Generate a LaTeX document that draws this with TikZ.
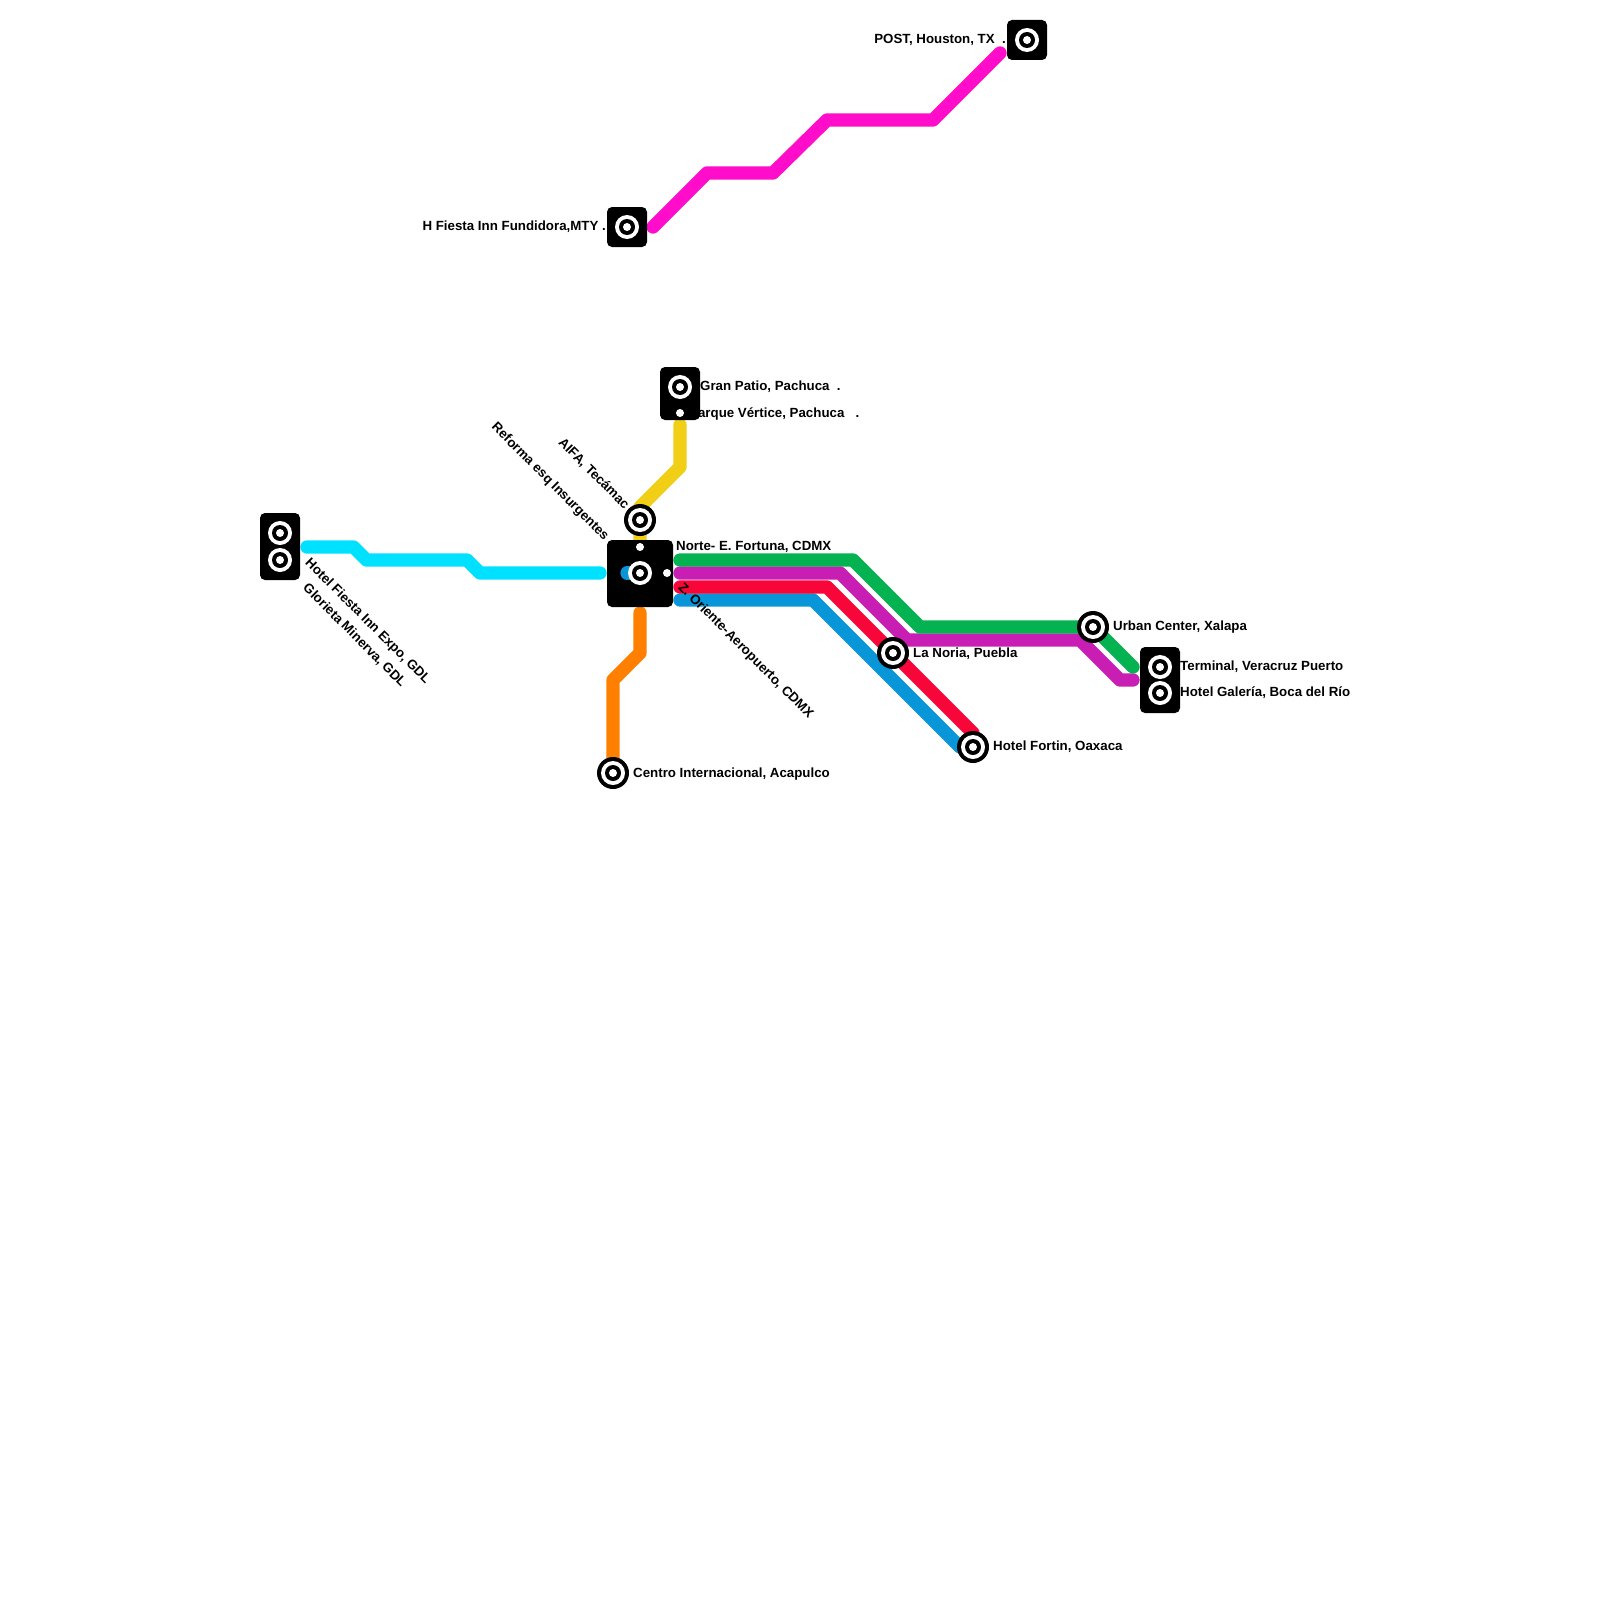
\documentclass[tikz,border=0pt]{standalone}
\usepackage{fontspec}
\setmainfont{Liberation Sans}
\definecolor{cGreen}{HTML}{05B252}
\definecolor{cPurple}{HTML}{C81EB4}
\definecolor{cRed}{HTML}{F80539}
\definecolor{cBlue}{HTML}{0896D8}
\definecolor{cCyan}{HTML}{00E1FF}
\definecolor{cYellow}{HTML}{F0CF16}
\definecolor{cOrange}{HTML}{FF8000}
\definecolor{cMagenta}{HTML}{FF0DCB}
\tikzset{
  mline/.style={line width=13.3pt,line cap=round,line join=round},
  stbox/.style={fill=black,rounded corners=5pt},
  whiteDisk/.style={circle,fill=white,inner sep=0pt,minimum size=#1},
  blackDisk/.style={circle,fill=black,inner sep=0pt,minimum size=#1},
  lbl/.style={font=\fontsize{13.3}{15}\selectfont\bfseries,inner sep=0pt,text=black}
}
\newcommand{\stnCore}[2]{%
  \node[whiteDisk=24pt] (#1) at (#2) {};
  \node[blackDisk=16pt] (#1i) at (#2) {};
  \node[whiteDisk=8pt] (#1c) at (#2) {};}
\newcommand{\stnRing}[2]{%
  \node[blackDisk=32pt] (#1o) at (#2) {};
  \stnCore{#1}{#2}}
\begin{document}
\begin{tikzpicture}[x=1pt,y=-1pt]
\useasboundingbox[fill=white] (0,0) rectangle (1600,1600);
% endpoints
\coordinate (yA) at (680,425); \coordinate (yB) at (680,467); \coordinate (yC) at (640,507); \coordinate (yD) at (640,540);
\coordinate (oA) at (640,613); \coordinate (oB) at (640,653); \coordinate (oC) at (613,680); \coordinate (oD) at (613,773);
\coordinate (mA) at (653,227); \coordinate (mB) at (707,173); \coordinate (mC) at (773,173); \coordinate (mD) at (827,120); \coordinate (mE) at (933,120); \coordinate (mF) at (1000,53);
\coordinate (cA) at (307,547); \coordinate (cB) at (353.5,547); \coordinate (cC) at (366.5,560); \coordinate (cD) at (467,560); \coordinate (cE) at (480,573); \coordinate (cF) at (600,573);
\coordinate (gA) at (680,560); \coordinate (gB) at (853,560); \coordinate (gC) at (920,627); \coordinate (gD) at (1093,627); \coordinate (gE) at (1133,667);
\coordinate (pA) at (680,573); \coordinate (pB) at (840,573); \coordinate (pC) at (907,640); \coordinate (pD) at (1080,640); \coordinate (pE) at (1120,680); \coordinate (pF) at (1133,680);
\coordinate (rA) at (680,587); \coordinate (rB) at (827,587); \coordinate (rC) at (973,733);
\coordinate (bA) at (680,600); \coordinate (bB) at (813,600); \coordinate (bC) at (960,747);
\coordinate (bX) at (627,573); \coordinate (bY) at (640,573);
% labels under boxes
\node[lbl,anchor=west] (tGran) at (700,387) {Gran Patio, Pachuca\ \ .};
\node[lbl,anchor=west] (tParque) at (689,414) {Parque Vértice, Pachuca\ \ \ .};
\node[lbl,anchor=east] (tMty) at (606,227) {H Fiesta Inn Fundidora,MTY .};
\node[lbl,anchor=east] (tPost) at (1006,40) {POST, Houston, TX\ \ .};
\node[lbl,anchor=west] (tNorte) at (676,547) {Norte- E. Fortuna, CDMX};
\node[lbl,anchor=west] (tUrban) at (1113,627) {Urban Center, Xalapa};
\node[lbl,anchor=west] (tNoria) at (913,654) {La Noria, Puebla};
\node[lbl,anchor=west] (tFortin) at (993,747) {Hotel Fortin, Oaxaca};
\node[lbl,anchor=west] (tCentro) at (633,774) {Centro Internacional, Acapulco};
\node[lbl,anchor=west] (tTerm) at (1180,667) {Terminal, Veracruz Puerto};
\node[lbl,anchor=west] (tGal) at (1180,693) {Hotel Galería, Boca del Río};
\node[lbl,anchor=east,rotate=-45] (tRef) at (606.5,538.5) {Reforma esq Insurgentes};
\node[lbl,anchor=east,rotate=-45] (tAifa) at (627,507) {AIFA, Tecámac};
\node[lbl,anchor=west,rotate=-45] (tHotel) at (307,561) {Hotel Fiesta Inn Expo, GDL};
\node[lbl,anchor=west,rotate=-45] (tGlor) at (305,586) {Glorieta Minerva, GDL};
% lines
\draw[mline,cMagenta] (mA)--(mB)--(mC)--(mD)--(mE)--(mF);
\draw[mline,cCyan] (cA)--(cB)--(cC)--(cD)--(cE)--(cF);
\draw[mline,cYellow] (yA)--(yB)--(yC)--(yD);
\draw[mline,cOrange] (oA)--(oB)--(oC)--(oD);
\draw[mline,cBlue] (bA)--(bB)--(bC);
\draw[mline,cRed] (rA)--(rB)--(rC);
\draw[mline,cPurple] (pA)--(pB)--(pC)--(pD)--(pE)--(pF);
\draw[mline,cGreen] (gA)--(gB)--(gC)--(gD)--(gE);
% boxes
\fill[stbox] (660,367) rectangle (700,420);
\fill[stbox] (607,207) rectangle (647,247);
\fill[stbox] (1007,20) rectangle (1047,60);
\fill[stbox] (260,513) rectangle (300,580);
\fill[stbox] (1140,647) rectangle (1180,713);
\fill[stbox] (607,540) rectangle (673,607);
\draw[mline,cBlue] (bX)--(bY);
% stations
\stnCore{sGran}{680,387}
\node[whiteDisk=8pt] (sParque) at (680,413) {};
\stnCore{sMty}{627,227}
\stnCore{sPost}{1027,40}
\stnCore{sHotel}{280,533}
\stnCore{sGlor}{280,560}
\stnCore{sTerm}{1160,667}
\stnCore{sGal}{1160,693}
\stnCore{sRef}{640,573}
\node[whiteDisk=8pt] (sD1) at (640,547) {};
\node[whiteDisk=8pt] (sD2) at (667,573) {};
\stnRing{sAifa}{640,520}
\stnRing{sUrban}{1093,627}
\stnRing{sNoria}{893,653}
\stnRing{sFortin}{973,747}
\stnRing{sCentro}{613,773}
% label over box
\node[lbl,anchor=west,rotate=-45] (tZ) at (680,585.5) {Z. Oriente-Aeropuerto, CDMX};
\end{tikzpicture}
\end{document}
